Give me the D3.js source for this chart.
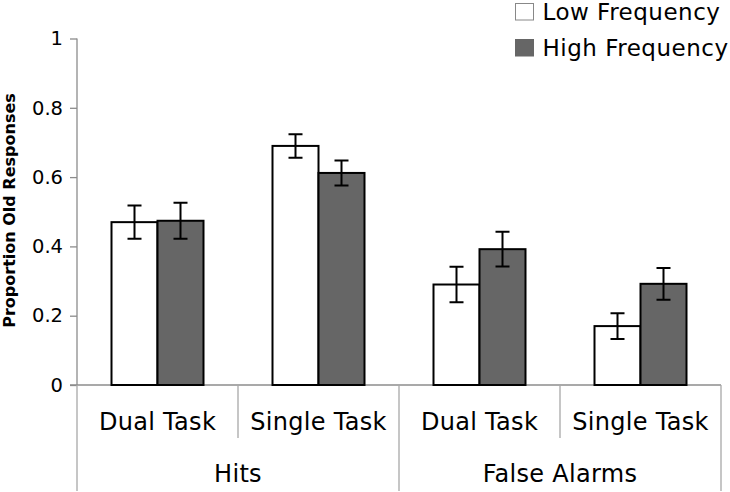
<!DOCTYPE html>
<html>
<head>
<meta charset="utf-8">
<script src="https://cdn.jsdelivr.net/npm/d3@7"></script>
<style>
  html, body { margin: 0; padding: 0; background: #fff; }
  svg { display: block; }
  text { font-family: Verdana, "DejaVu Sans", sans-serif; fill: #000; }
</style>
</head>
<body>
<svg id="chart" width="730" height="492"></svg>
<script>
const categories = ["Dual Task", "Single Task", "Dual Task", "Single Task"];
const groups = ["Hits", "False Alarms"];
const series = ["Low Frequency", "High Frequency"];
const lowFreq = [0.47, 0.69, 0.29, 0.17];
const highFreq = [0.474, 0.612, 0.392, 0.292];
const lowErr = [0.048, 0.034, 0.051, 0.037];
const highErr = [0.052, 0.036, 0.05, 0.046];
const yTicks = [0, 0.2, 0.4, 0.6, 0.8, 1];
const yTickLabels = ["0", "0.2", "0.4", "0.6", "0.8", "1"];
const yTitle = "Proportion Old Responses";

(function () {
const svg = d3.select("#chart");
const mLeft = 77, mRight = 721, mBottom = 385, mTop = 38.5;
const axisColor = "#8c8c8c";
const fills = ["#ffffff", "#666666"];

const y = d3.scaleLinear().domain([0, 1]).range([mBottom, mTop]);
const x0 = d3.scaleBand().domain(d3.range(categories.length)).range([mLeft, mRight]).paddingInner(0).paddingOuter(0);
const x1 = d3.scaleBand().domain(series).range([0, x0.bandwidth()]).paddingInner(0).paddingOuter(0.75);
const xg = d3.scaleBand().domain(groups).range([mLeft, mRight]);

// Y axis
const yAxis = d3.axisLeft(y).tickValues(yTicks)
  .tickFormat((d, i) => yTickLabels[i]).tickSize(7).tickPadding(7);
const ya = svg.append("g").attr("transform", `translate(${mLeft},0)`).call(yAxis);
ya.select(".domain").attr("stroke", axisColor).attr("stroke-width", 1.3).attr("d", `M0,${mTop}V${mBottom}`);
ya.selectAll(".tick line").attr("stroke", axisColor).attr("stroke-width", 1.3);
ya.selectAll(".tick text").attr("font-size", 19.5).attr("font-family", 'Verdana, "DejaVu Sans", sans-serif').attr("fill", "#000");

// Y title
svg.append("text")
  .attr("transform", `translate(15,${(93 + 328) / 2}) rotate(-90)`)
  .attr("text-anchor", "middle")
  .attr("font-size", 16).attr("font-weight", "bold")
  .text(yTitle);

// X axis baseline
svg.append("line").attr("x1", mLeft - 7).attr("x2", mRight).attr("y1", mBottom).attr("y2", mBottom)
  .attr("stroke", axisColor).attr("stroke-width", 1.3);

// Category separators
const innerSeps = [1, 3];
innerSeps.forEach(i => {
  svg.append("line").attr("x1", x0(i)).attr("x2", x0(i)).attr("y1", mBottom).attr("y2", 438)
    .attr("stroke", "#a8a8a8").attr("stroke-width", 1.3);
});
const outerSeps = [x0(0), x0(2), x0(3) + x0.bandwidth()];
outerSeps.forEach(xx => {
  svg.append("line").attr("x1", xx).attr("x2", xx).attr("y1", mBottom).attr("y2", 491)
    .attr("stroke", "#a8a8a8").attr("stroke-width", 1.3);
});

// Category labels
svg.append("g").selectAll("text").data(categories).join("text")
  .attr("x", (d, i) => x0(i) + x0.bandwidth() / 2)
  .attr("y", 430).attr("text-anchor", "middle").attr("font-size", 24)
  .attr("letter-spacing", 0.3)
  .text(d => d);
svg.append("g").selectAll("text").data(groups).join("text")
  .attr("x", d => xg(d) + xg.bandwidth() / 2)
  .attr("y", 482).attr("text-anchor", "middle").attr("font-size", 24)
  .attr("letter-spacing", 0.3)
  .text(d => d);

// Bars
const rows = categories.map((c, i) => [
  { s: series[0], v: lowFreq[i], e: lowErr[i], i },
  { s: series[1], v: highFreq[i], e: highErr[i], i }
]);
const g = svg.append("g").selectAll("g").data(rows).join("g")
  .attr("transform", (d, i) => `translate(${x0(i)},0)`);
g.selectAll("rect").data(d => d).join("rect")
  .attr("x", d => x1(d.s))
  .attr("y", d => y(d.v))
  .attr("width", x1.bandwidth())
  .attr("height", d => y(0) - y(d.v))
  .attr("fill", (d, k) => fills[k])
  .attr("stroke", "#000").attr("stroke-width", 2);

// Error bars
const cap = 7;
g.selectAll("path.err").data(d => d).join("path").attr("class", "err")
  .attr("d", d => {
    const cx = x1(d.s) + x1.bandwidth() / 2;
    const y1 = y(d.v + d.e), y2 = y(d.v - d.e);
    return `M${cx - cap},${y1}H${cx + cap}M${cx},${y1}V${y2}M${cx - cap},${y2}H${cx + cap}`;
  })
  .attr("fill", "none").attr("stroke", "#000").attr("stroke-width", 2);

// Legend
const lg = svg.append("g").selectAll("g").data(series).join("g")
  .attr("transform", (d, i) => `translate(515.5,${3.5 + i * 36})`);
lg.append("rect").attr("width", 18).attr("height", 16.5)
  .attr("fill", (d, i) => fills[i])
  .attr("stroke", (d, i) => i === 0 ? "#888" : "#666").attr("stroke-width", 1);
lg.append("text").attr("x", 27).attr("y", 16).attr("font-size", 23)
  .attr("letter-spacing", 0.5).text(d => d);
})();
</script>
</body>
</html>
